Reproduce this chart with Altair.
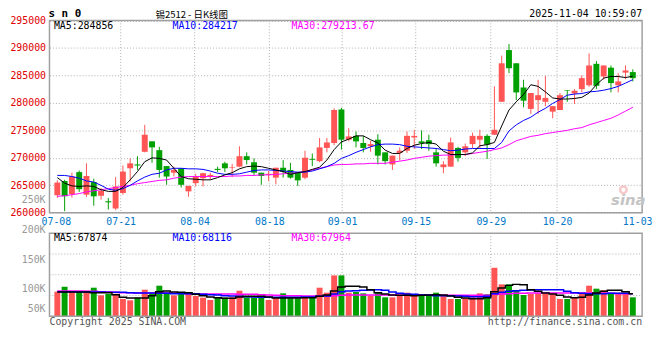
import altair as alt
import pandas as pd

# ---------------- data ----------------
opens = [263200, 265800, 263400, 267400, 263300, 265600, 263100, 262100, 260800, 263600,
         268100, 268800, 271100, 273000, 271400, 268500, 267300, 268100, 263900, 265400,
         266300, 266700, 268000, 269000, 268200, 268400, 270300, 269200, 267300, 266900,
         266400, 268200, 267800, 267300, 266400, 269800, 269400, 271800, 272700, 278800,
         273300, 274000, 272700, 272100, 273300, 271000, 268800, 270900, 271300, 273700,
         273000, 273200, 271000, 268300, 268400, 271800, 271000, 272500, 273300, 274000,
         274200, 280200, 289600, 287200, 282800, 278900, 280500, 280200, 278400, 278700,
         282300, 281700, 282500, 283200, 287100, 284800, 286400, 283200, 285500, 285600]
closes = [265500, 263000, 266600, 264300, 266700, 263000, 264000, 261900, 264800, 267500,
          269000, 268600, 274200, 271900, 267800, 266600, 267800, 265100, 264900, 266600,
          267200, 266900, 267800, 268100, 268300, 270300, 269600, 267300, 266700, 267100,
          268200, 267500, 266400, 265900, 270000, 269650, 271900, 272800, 278700, 273300,
          273900, 273000, 271800, 272500, 270400, 269400, 270400, 271300, 274000, 274000,
          272700, 272500, 269000, 268800, 272800, 270000, 272100, 274000, 274000, 272400,
          275100, 287200, 286300, 281900, 280400, 281800, 281400, 280900, 279400, 281400,
          282200, 282200, 284500, 286800, 283100, 286800, 283600, 283900, 285900, 284500]
highs = [265900, 266000, 267300, 267700, 269000, 266200, 264500, 262700, 266500, 268600,
         269900, 270300, 276000, 273000, 272000, 268500, 268400, 268100, 264900, 267100,
         267300, 267300, 268400, 269300, 268900, 272100, 271000, 269900, 267300, 267600,
         268200, 269600, 269100, 267300, 271300, 270800, 273600, 273600, 279000, 279100,
         275400, 274800, 274000, 273100, 274300, 271000, 270400, 271900, 274800, 275100,
         275000, 274200, 271600, 269400, 273700, 272000, 272600, 274600, 275100, 274300,
         283000, 288600, 290700, 287200, 284200, 281800, 284200, 284900, 279400, 281800,
         282300, 282500, 285000, 289000, 287600, 286800, 286800, 285400, 286800, 286100]
lows = [262700, 260300, 262800, 263800, 262900, 261300, 262400, 260600, 260500, 263300,
        265700, 267800, 271000, 269100, 266400, 265100, 266600, 264600, 262900, 264800,
        264800, 266000, 267400, 267400, 266500, 268300, 268800, 266900, 265100, 265800,
        265200, 266400, 266200, 264900, 266100, 268500, 269200, 271000, 272300, 271500,
        273000, 271900, 271000, 271100, 268800, 268800, 267800, 269500, 270900, 271600,
        271600, 271300, 268400, 267200, 268400, 269300, 270300, 271800, 271700, 269800,
        274200, 280200, 285400, 280500, 279200, 278000, 278000, 279400, 277200, 278700,
        280200, 279800, 281900, 282900, 282500, 284200, 281900, 281900, 284300, 283900]
volumes = [74000, 89000, 76000, 73000, 77000, 86000, 63000, 67000, 68000, 52000,
           48000, 56000, 80000, 70000, 92000, 73000, 63000, 67000, 68000, 61000,
           56000, 49000, 56000, 56000, 57000, 77000, 57000, 56000, 56000, 49000,
           56000, 69000, 54000, 54000, 56000, 56000, 86000, 71000, 123000, 123000,
           71000, 73000, 69000, 62000, 73000, 57000, 57000, 64000, 71000, 62000,
           66000, 62000, 71000, 64000, 52000, 52000, 54000, 57000, 69000, 66000,
           146000, 96000, 96000, 78000, 64000, 67000, 69000, 69000, 69000, 52000,
           52000, 57000, 71000, 92000, 83000, 78000, 71000, 71000, 71000, 57000]
ma5 = [266400, 265400, 264900, 264800, 264900, 264800, 264200, 263900, 263900, 264600,
       266000, 267500, 269300, 270000, 269900, 269600, 268100, 266600, 266200, 266100,
       266000, 266000, 266400, 266900, 267300, 268000, 268400, 268500, 268400, 268100,
       267800, 267500, 267000, 267300, 267500, 267900, 268300, 269600, 271500, 272900,
       273400, 274000, 274000, 273300, 272700, 271400, 270800, 270800, 271700, 272300,
       272600, 272800, 272500, 271200, 270600, 270600, 270600, 270900, 272200, 272400,
       272800, 275800, 278700, 280200, 281500, 283300, 283000, 282000, 280900, 280700,
       280700, 280800, 281000, 281800, 283300, 284500, 284800, 284800, 284600, 284856]
ma10 = [266800, 266800, 266600, 266300, 265800, 265600, 265000, 264300, 264100, 264400,
        265000, 265800, 266500, 267000, 267200, 267800, 268100, 268100, 268000, 268000,
        267900, 267600, 267200, 267000, 267000, 267100, 267400, 267700, 267800, 267800,
        267700, 267600, 267500, 267400, 267400, 267600, 268000, 268400, 269000, 269900,
        270400, 271000, 271500, 272000, 272400, 272500, 272500, 272400, 272100, 272000,
        271900, 271800, 271700, 271500, 271300, 271400, 271600, 271700, 271700, 271700,
        271700, 272800, 274900, 276000, 276800, 277400, 278300, 279000, 279900, 280600,
        281400, 281600, 281700, 282000, 282100, 282300, 282600, 283000, 283600, 284217]
ma30 = [263000, 263100, 263300, 263500, 263800, 264000, 264200, 264400, 264600, 264800,
        265000, 265300, 265500, 265700, 265900, 266000, 266300, 266500, 266600, 266600,
        266600, 266600, 266600, 266600, 266700, 266700, 266800, 266800, 266900, 266900,
        267000, 267100, 267200, 267300, 267500, 267800, 268100, 268400, 268700, 268800,
        268800, 268900, 268900, 269000, 269000, 269000, 269200, 269400, 269600, 269900,
        270100, 270300, 270400, 270500, 270500, 270600, 270600, 270800, 271000, 271200,
        271500, 271800, 272400, 273100, 273500, 273900, 274100, 274400, 274600, 274800,
        275000, 275300, 275500, 276000, 276400, 276800, 277200, 277800, 278500, 279214]
vma5 = [73000, 73000, 73000, 73000, 73000, 71000, 71000, 71000, 65000, 57000,
        55000, 55000, 55000, 62000, 74000, 76000, 73000, 72000, 71000, 66000,
        62000, 58000, 56000, 54000, 54000, 58000, 60000, 60000, 60000, 58000,
        55000, 55000, 55000, 55000, 56000, 56000, 60000, 64000, 76000, 88000,
        90000, 90000, 88000, 80000, 71000, 67000, 64000, 63000, 63000, 62000,
        63000, 64000, 65000, 64000, 61000, 57000, 55000, 53000, 53000, 56000,
        74000, 85000, 93000, 96000, 95000, 80000, 75000, 70000, 67000, 63000,
        58000, 56000, 57000, 64000, 70000, 75000, 78000, 78000, 74000, 67874]
vma10 = [74000, 74000, 74000, 73000, 73000, 73000, 73000, 72000, 72000, 72000,
         71000, 70000, 70000, 70000, 69000, 69000, 68000, 68000, 68000, 68000,
         66000, 65000, 64000, 62000, 61000, 60000, 59000, 58000, 57000, 57000,
         57000, 57000, 57000, 57000, 58000, 58000, 60000, 61000, 67000, 74000,
         76000, 77000, 78000, 79000, 80000, 78000, 73000, 69000, 67000, 66000,
         64000, 63000, 62000, 62000, 62000, 61000, 60000, 59000, 59000, 60000,
         68000, 72000, 75000, 77000, 78000, 79000, 80000, 80000, 80000, 80000,
         75000, 71000, 69000, 68000, 68000, 68000, 69000, 69000, 69000, 68116]
vma30 = [76000, 76000, 76000, 76000, 75000, 75000, 74000, 73000, 72000, 71000,
         71000, 70000, 70000, 70000, 70000, 70000, 70000, 69000, 68000, 68000,
         67000, 67000, 67000, 67000, 67000, 66000, 66000, 66000, 65000, 64000,
         63000, 62000, 62000, 62000, 61000, 61000, 61000, 61000, 62000, 63000,
         64000, 64000, 64000, 64000, 64000, 64000, 64000, 64000, 64000, 64000,
         64000, 64000, 64000, 63000, 63000, 63000, 63000, 63000, 63000, 63000,
         66000, 67000, 68000, 69000, 69000, 70000, 70000, 70000, 70000, 70000,
         70000, 70000, 70000, 70000, 69000, 69000, 69000, 68000, 68000, 67964]

date_tick_pos = [0.2, 9.1, 19.25, 29.5, 39.5, 49.6, 59.9, 69.0, 80.0]
date_tick_labels = ["07-08", "07-21", "08-04", "08-18", "09-01", "09-15", "09-29", "10-20", "11-03"]
price_ticks = [260000, 265000, 270000, 275000, 280000, 285000, 290000, 295000]
vol_grid = [62500, 125000, 187500]
vol_label_pos = [349700, 258900, 169600, 82400, 22900]
vol_label_text = ["250K", "200K", "150K", "100K", "50K"]

title_text = "锡2512 - 日K线图"
code_text = "s n 0"
time_text = "2025-11-04 10:59:07"
ma_texts = ["MA5:284856", "MA10:284217", "MA30:279213.67"]
vma_texts = ["MA5:67874", "MA10:68116", "MA30:67964"]
copyright_text = "Copyright 2025 SINA.COM"
url_text = "http://finance.sina.com.cn"
logo_text = "sina"

# ---------------- layout / style ----------------
W, H = 600, 310
P_TOP, P_BOT = 10.5, 205.3
V_TOP, V_BOT = 226, 310
RED = "#ff5555"
GREEN = "#00a000"
GRID = "#b0b0b0"
MONO = "DejaVu Sans Mono"

n = len(opens)
df = pd.DataFrame({
    "xi": [i + 0.4 for i in range(n)],
    "o": opens, "c": closes, "h": highs, "l": lows, "v": volumes,
    "ma5": ma5, "ma10": ma10, "ma30": ma30,
    "vma5": vma5, "vma10": vma10, "vma30": vma30,
})
df["col"] = [RED if c >= o else GREEN for o, c in zip(opens, closes)]

xs = alt.Scale(domain=[0, 80], nice=False, zero=False)
ps = alt.Scale(domain=[260000, 295000], range=[P_BOT, P_TOP], nice=False, zero=False)
vs = alt.Scale(domain=[0, 250000], range=[V_BOT, V_TOP], nice=False)

# label expression for the date axis
expr = f"'{date_tick_labels[-1]}'"
for k in range(len(date_tick_pos) - 2, -1, -1):
    mid = (date_tick_pos[k] + date_tick_pos[k + 1]) / 2
    expr = f"datum.value < {mid} ? '{date_tick_labels[k]}' : ({expr})"

x_axis = alt.Axis(values=date_tick_pos, labelExpr=expr, orient="bottom",
                  offset=-(H - P_BOT), grid=False, domain=False, ticks=False,
                  tickSize=0, labelPadding=4, labelFont=MONO, labelFontSize=10,
                  labelColor="#0078c8", labelFlush=1, labelOverlap=False, title=None)
p_axis = alt.Axis(values=price_ticks, orient="left", grid=True, gridDash=[1, 2],
                  gridColor=GRID, domain=False, ticks=False, tickSize=0,
                  labelPadding=4, labelFont=MONO, labelFontSize=10,
                  labelColor="#e00000", labelOverlap=False, format="d", title=None)

X = lambda f: alt.X(f, scale=xs, axis=x_axis)
PY = lambda f: alt.Y(f, scale=ps, axis=p_axis)
VY = lambda f: alt.Y(f, scale=vs, axis=None)


def txt(text, x, y, color="#000000", align="left", size=10, font=MONO,
        weight="normal", style="normal"):
    return alt.Chart(pd.DataFrame({"t": [text]})).mark_text(
        align=align, baseline="middle", font=font, fontSize=size, color=color,
        fontWeight=weight, fontStyle=style).encode(
        text="t:N", x=alt.value(x), y=alt.value(y))


def border(y0, y1):
    return alt.Chart(pd.DataFrame({"a": [0]})).mark_rect(
        fill="transparent", stroke="#a0a0a0", strokeWidth=1.5).encode(
        x=alt.value(0), x2=alt.value(W), y=alt.value(y0), y2=alt.value(y1))


vg_df = pd.DataFrame({"pos": date_tick_pos[1:-1]})

# ---------------- price panel ----------------
p_vgrid = alt.Chart(vg_df).mark_rule(color=GRID, strokeDash=[1, 2]).encode(
    x=X("pos:Q"), y=alt.value(P_TOP), y2=alt.value(P_BOT))
base = alt.Chart(df)
wicks = base.mark_rule(strokeWidth=1).encode(
    x=X("xi:Q"), y=PY("l:Q"), y2="h:Q", color=alt.Color("col:N", scale=None))
bodies = base.mark_bar(size=6).encode(
    x=X("xi:Q"), y=PY("o:Q"), y2="c:Q", color=alt.Color("col:N", scale=None))


def pline(field, color):
    return base.mark_line(color=color, strokeWidth=1).encode(x=X("xi:Q"), y=PY(f"{field}:Q"))


logo_ring = alt.Chart(pd.DataFrame({"a": [0]})).mark_point(
    shape="circle", filled=False, size=45, strokeWidth=2.5, color="#f3b4b4").encode(
    x=alt.value(581), y=alt.value(182))

price = alt.layer(
    p_vgrid, wicks, bodies,
    pline("ma30", "#ff00ff"), pline("ma10", "#0000ff"), pline("ma5", "#000000"),
    border(P_TOP, P_BOT),
    txt(ma_texts[0], 4.5, 16, "#000000"),
    txt(ma_texts[1], 124.5, 16, "#0000ff"),
    txt(ma_texts[2], 245, 16, "#ff00ff"),
    txt(code_text, -1, 4, "#000000", size=11, weight="bold"),
    txt(title_text, 144, 4.9, "#000000", align="center", size=9.6, font="Noto Sans CJK SC"),
    txt(time_text, 600, 4, "#000000", align="right"),
    logo_ring,
    txt(logo_text, 586, 192, "#c4c4c4", align="center", size=15, font="DejaVu Sans",
        weight="bold", style="italic"),
)

# ---------------- volume panel ----------------
v_hgrid = alt.Chart(pd.DataFrame({"g": vol_grid})).mark_rule(color=GRID, strokeDash=[1, 2]).encode(
    y=VY("g:Q"), x=alt.value(0), x2=alt.value(W))
v_vgrid = alt.Chart(vg_df).mark_rule(color=GRID, strokeDash=[1, 2]).encode(
    x=X("pos:Q"), y=alt.value(V_TOP), y2=alt.value(V_BOT))
vbars = base.mark_bar(size=6).encode(
    x=X("xi:Q"), y=VY("v:Q"), color=alt.Color("col:N", scale=None))


def vline(field, color):
    return base.mark_line(color=color, strokeWidth=1.5, interpolate="step").encode(
        x=X("xi:Q"), y=VY(f"{field}:Q"))


vlabels = alt.Chart(pd.DataFrame({"p": vol_label_pos, "t": vol_label_text})).mark_text(
    align="right", baseline="middle", font=MONO, fontSize=10, color="#999999").encode(
    y=VY("p:Q"), x=alt.value(-4), text="t:N")

volume = alt.layer(
    v_hgrid, v_vgrid, vbars,
    vline("vma30", "#ff00ff"), vline("vma10", "#0000ff"), vline("vma5", "#000000"),
    border(V_TOP, V_BOT), vlabels,
    txt(vma_texts[0], 4.5, 230.5, "#000000"),
    txt(vma_texts[1], 124.5, 230.5, "#0000ff"),
    txt(vma_texts[2], 245, 230.5, "#ff00ff"),
    txt(copyright_text, 0, 315.5, "#555555"),
    txt(url_text, 600, 315.5, "#555555", align="right"),
)

chart = alt.layer(price, volume).resolve_scale(y="independent").properties(
    width=W, height=H,
    autosize=alt.AutoSizeParams(type="none"),
    padding={"left": 42, "top": 0, "right": 10, "bottom": 22},
    background="white",
).configure_view(strokeWidth=0)

chart.save("out.html", embed_options={"renderer": "svg", "actions": False})
